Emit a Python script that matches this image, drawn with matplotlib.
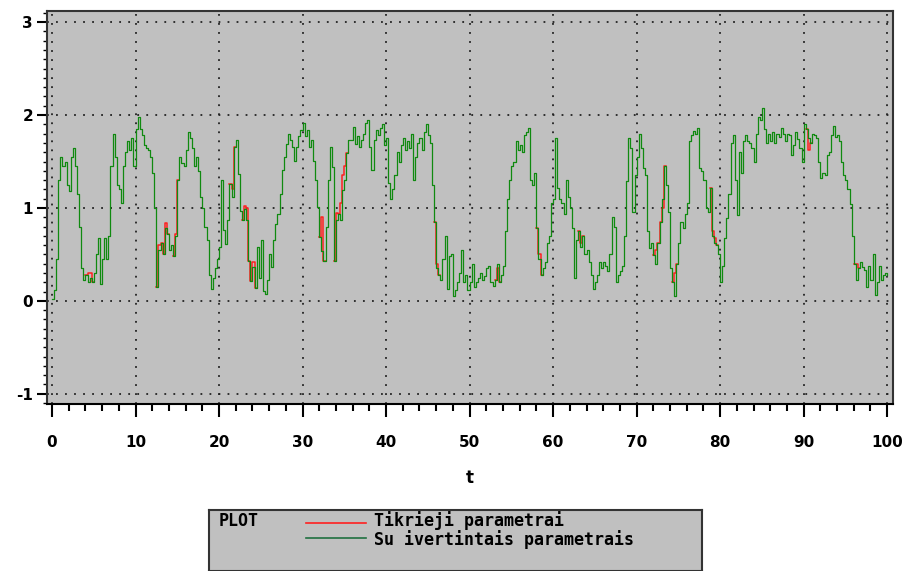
import numpy as np
import matplotlib
matplotlib.use("Agg")
import matplotlib.pyplot as plt
from matplotlib.ticker import MultipleLocator

# estimated parameter path, read every 0.25 of t
su_ivertintais = [
    0.02, 0.12, 0.45, 1.30, 1.55, 1.45, 1.50, 1.25, 1.18, 1.55, 1.65, 1.45, 1.15, 0.80, 0.35, 0.22, 0.28, 0.20, 0.25, 0.20,
    0.30, 0.50, 0.68, 0.18, 0.45, 0.68, 0.45, 0.70, 1.45, 1.80, 1.55, 1.25, 1.20, 1.05, 1.45, 1.60, 1.72, 1.62, 1.75, 1.45,
    1.85, 1.98, 1.85, 1.78, 1.68, 1.65, 1.62, 1.55, 1.38, 1.00, 0.15, 0.55, 0.62, 0.50, 0.78, 0.72, 0.55, 0.60, 0.48, 0.70,
    1.30, 1.55, 1.48, 1.45, 1.62, 1.82, 1.75, 1.65, 1.45, 1.55, 1.40, 1.12, 1.00, 0.80, 0.65, 0.28, 0.13, 0.25, 0.35, 0.45,
    0.58, 1.30, 0.76, 0.61, 0.87, 1.26, 1.12, 1.66, 1.73, 1.37, 0.97, 0.87, 0.99, 0.87, 0.43, 0.21, 0.36, 0.14, 0.58, 0.25,
    0.65, 0.11, 0.07, 0.22, 0.50, 0.36, 0.65, 0.83, 0.94, 1.15, 1.41, 1.55, 1.69, 1.80, 1.73, 1.66, 1.51, 1.66, 1.77, 1.84,
    1.91, 1.77, 1.84, 1.66, 1.73, 1.51, 1.30, 1.01, 0.69, 0.54, 0.43, 0.79, 1.30, 1.66, 1.44, 0.43, 0.87, 0.94, 0.87, 1.19,
    1.30, 1.59, 1.73, 1.73, 1.87, 1.69, 1.77, 1.66, 1.73, 1.80, 1.91, 1.95, 1.66, 1.41, 1.73, 1.84, 1.78, 1.86, 1.90, 1.68,
    1.75, 1.27, 1.10, 1.20, 1.35, 1.60, 1.50, 1.68, 1.75, 1.62, 1.72, 1.65, 1.80, 1.30, 1.55, 1.70, 1.75, 1.62, 1.82, 1.90,
    1.78, 1.70, 1.25, 0.85, 0.35, 0.28, 0.22, 0.45, 0.70, 0.13, 0.48, 0.50, 0.05, 0.12, 0.20, 0.30, 0.55, 0.20, 0.28, 0.12,
    0.20, 0.40, 0.15, 0.20, 0.25, 0.30, 0.22, 0.27, 0.35, 0.38, 0.20, 0.16, 0.22, 0.40, 0.20, 0.28, 0.38, 0.75, 1.10, 1.30,
    1.45, 1.50, 1.72, 1.62, 1.68, 1.60, 1.78, 1.82, 1.86, 1.30, 1.25, 1.38, 0.78, 0.45, 0.28, 0.35, 0.42, 0.62, 0.70, 1.05,
    1.10, 1.75, 1.21, 1.10, 1.05, 0.93, 1.30, 1.12, 1.00, 0.78, 0.25, 0.65, 0.75, 0.58, 0.70, 0.50, 0.55, 0.42, 0.28, 0.13,
    0.20, 0.28, 0.42, 0.35, 0.42, 0.38, 0.32, 0.50, 0.90, 0.80, 0.20, 0.28, 0.32, 0.38, 0.70, 1.29, 1.75, 1.65, 0.96, 1.35,
    1.55, 1.80, 1.65, 1.43, 1.35, 0.75, 0.57, 0.62, 0.49, 0.40, 0.62, 0.85, 1.10, 1.45, 1.25, 0.96, 0.35, 0.20, 0.05, 0.40,
    0.62, 0.85, 0.78, 0.93, 1.05, 1.72, 1.79, 1.83, 1.80, 1.86, 1.43, 1.40, 1.30, 1.00, 0.96, 1.21, 0.70, 0.62, 0.60, 0.50,
    0.20, 0.38, 0.68, 0.89, 1.15, 1.70, 1.79, 1.30, 0.92, 1.60, 1.38, 1.72, 1.78, 1.72, 1.70, 1.65, 1.50, 1.80, 1.98, 1.95,
    2.08, 1.85, 1.70, 1.80, 1.72, 1.82, 1.70, 1.80, 1.76, 1.86, 1.80, 1.72, 1.80, 1.78, 1.57, 1.68, 1.82, 1.74, 1.65, 1.50,
    1.90, 1.85, 1.75, 1.70, 1.80, 1.78, 1.75, 1.50, 1.32, 1.38, 1.36, 1.57, 1.60, 1.78, 1.88, 1.76, 1.78, 1.72, 1.50, 1.36,
    1.30, 1.20, 1.04, 0.70, 0.40, 0.22, 0.35, 0.42, 0.36, 0.33, 0.15, 0.38, 0.22, 0.50, 0.06, 0.20, 0.38, 0.22, 0.28, 0.30,
    0.28,
]
t = np.linspace(0, 100, len(su_ivertintais))

# the true path differs only in a few places
tikrieji_idx = [17, 18, 51, 54, 59, 86, 92, 93, 96, 129, 136, 138, 139, 140,
                184, 213, 233, 253, 289, 292, 298, 316, 317, 362, 385]
tikrieji_val = [0.30, 0.30, 0.60, 0.84, 0.72, 1.20, 1.02, 1.00, 0.42, 0.90, 0.95, 1.05, 1.35, 1.45,
                0.40, 0.35, 0.50, 0.62, 0.55, 1.00, 0.30, 0.75, 0.68, 1.62, 0.40]
tikrieji = np.array(su_ivertintais)
tikrieji[tikrieji_idx] = tikrieji_val

# where both curves coincide the green one hides the red one anyway
diff = tikrieji != np.array(su_ivertintais)
near = diff | np.roll(diff, 1) | np.roll(diff, -1)
tikrieji_shown = np.where(near, tikrieji, np.nan)

grey = "#c0c0c0"
red = "#ff2020"
green = "#108a10"

fig = plt.figure(figsize=(9.06, 5.71), dpi=100)
ax = fig.add_axes([47 / 906, 1 - 404 / 571, 846 / 906, 393 / 571])
ax.set_facecolor(grey)

ax.plot(t, tikrieji_shown, color=red, lw=1.1, drawstyle="steps-post")
ax.plot(t, su_ivertintais, color=green, lw=0.9, drawstyle="steps-post")

ax.set_xlim(-0.6, 100.7)
ax.set_ylim(-1.11, 3.12)
ax.xaxis.set_major_locator(MultipleLocator(10))
ax.xaxis.set_minor_locator(MultipleLocator(2))
ax.yaxis.set_major_locator(MultipleLocator(1))
ax.yaxis.set_minor_locator(MultipleLocator(0.1))

for v in range(0, 101, 10):
    ax.axvline(v, color="#222222", lw=1.3, ls=(0, (1, 4)), zorder=0.5)
for v in range(-1, 4):
    ax.axhline(v, color="#222222", lw=1.3, ls=(0, (1, 4)), zorder=0.5)

for s in ax.spines.values():
    s.set_linewidth(1.5)
    s.set_color("#333333")
ax.spines["bottom"].set_color("black")

ax.tick_params(axis="x", which="major", direction="out", length=9, width=1.5, pad=13,
               labelsize=11)
ax.tick_params(axis="x", which="minor", direction="out", length=5, width=1.5)
ax.tick_params(axis="y", which="major", direction="out", length=7, width=1.5, pad=3,
               labelsize=11)
ax.tick_params(axis="y", which="minor", direction="out", length=3, width=1)
for lab in ax.get_xticklabels():
    lab.set_fontweight("bold")
ax.set_yticks([-1, 0, 1, 2, 3])
ax.set_yticklabels(["-1", "0", "1", "2", "3"], fontweight="bold")

fig.text(470 / 906, 1 - 478 / 571, "t", ha="center", va="center",
         fontsize=12, fontweight="bold")

# legend box drawn as its own panel
lg = fig.add_axes([209 / 906, 0, 493 / 906, 61 / 571])
lg.set_facecolor(grey)
lg.set_xlim(209, 702)
lg.set_ylim(571, 510)
lg.set_xticks([])
lg.set_yticks([])
for s in lg.spines.values():
    s.set_linewidth(1.5)
    s.set_color("#333333")
mono = dict(family="DejaVu Sans Mono", fontweight="bold", fontsize=12, va="center")
lg.text(219, 521, "PLOT", **mono)
lg.plot([306, 366], [523, 523], color=red, lw=1.2)
lg.plot([306, 366], [538, 538], color="#207040", lw=1.2)
lg.text(374, 521, "Tikrieji parametrai", **mono)
lg.text(374, 540, "Su ivertintais parametrais", **mono)

fig.savefig("out.png", dpi=100)
